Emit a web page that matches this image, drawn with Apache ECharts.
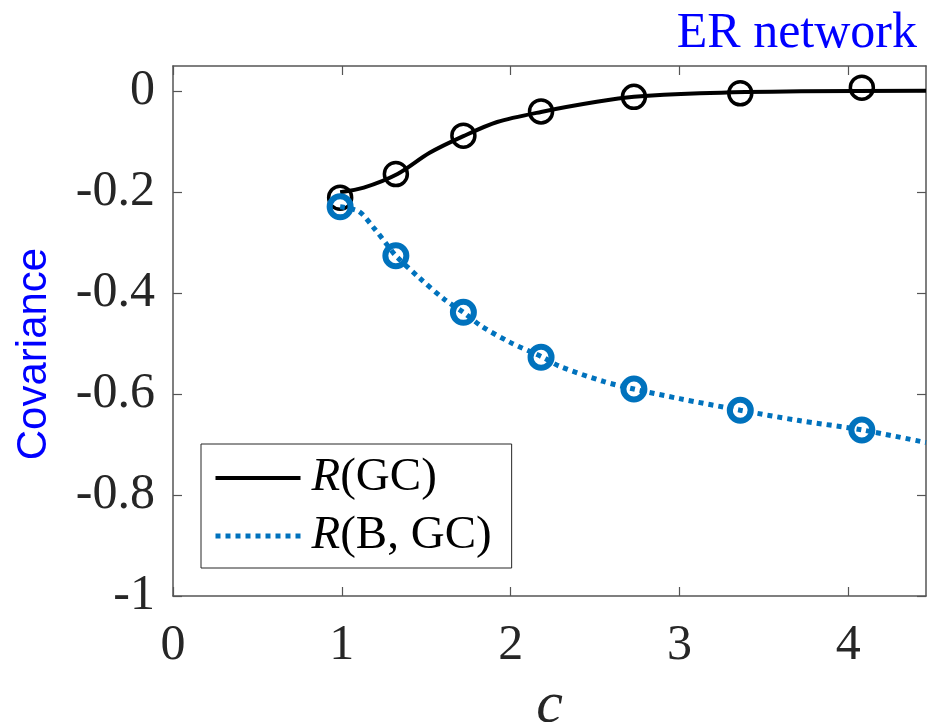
<!DOCTYPE html>
<html>
<head>
<meta charset="utf-8">
<script src="https://cdn.jsdelivr.net/npm/echarts@6/dist/echarts.min.js"></script>
<style>
  html, body { margin: 0; padding: 0; background: #fff; }
  #chart { width: 936px; height: 722px; }
</style>
</head>
<body>
<div id="chart"></div>
<script>
// Mean degree c of the ER network
const xTickValues = [0, 1, 2, 3, 4];
const yTickValues = [-1, -0.8, -0.6, -0.4, -0.2, 0];

// Theory curve: R(GC)
const gcCurveC = [0.99, 1.13, 1.33, 1.52, 1.72, 1.92, 2.18, 2.51, 2.73, 3.12, 3.72, 4.46];
const gcCurveR = [-0.2, -0.191, -0.164, -0.122, -0.089, -0.061, -0.041, -0.021, -0.011, -0.004, 0.0, 0.001];

// Theory curve: R(B, GC)
const bgcCurveC = [0.99, 1.1, 1.19, 1.27, 1.32, 1.46, 1.61, 1.72, 1.83, 2.0, 2.19, 2.29, 2.55, 2.73, 3.0, 3.36, 3.7, 4.08, 4.46];
const bgcCurveR = [-0.229, -0.238, -0.271, -0.305, -0.326, -0.37, -0.413, -0.438, -0.466, -0.498, -0.527, -0.545, -0.575, -0.59, -0.609, -0.632, -0.652, -0.671, -0.696];

// Simulation points
const markerC = [0.99, 1.32, 1.72, 2.18, 2.73, 3.36, 4.08];
const gcMarkerR = [-0.211, -0.164, -0.088, -0.04, -0.011, -0.004, 0.007];
const bgcMarkerR = [-0.229, -0.326, -0.438, -0.527, -0.59, -0.632, -0.671];

const zip = (xs, ys) => xs.map((x, i) => [x, ys[i]]);

const BLUE = '#0072BD';
const AXIS = '#555555';
const TEXT = '#262626';
const SERIF = '"Liberation Serif", "DejaVu Serif", serif';

const chart = echarts.init(document.getElementById('chart'), null, { renderer: 'canvas' });

const boxAxisLine = { show: true, onZero: false, lineStyle: { color: AXIS, width: 1.5 } };
const boxTick = { show: true, inside: true, length: 9, lineStyle: { color: AXIS, width: 1.2 } };

chart.setOption({
  animation: false,
  backgroundColor: '#fff',
  title: {
    text: 'ER network',
    right: 14,
    top: 4,
    textStyle: { color: '#0000FF', fontFamily: SERIF, fontSize: 50, fontWeight: 'normal' }
  },
  grid: { left: 173, right: 10, top: 66, bottom: 126, containLabel: false, outerBoundsMode: 'none' },
  legend: {
    orient: 'vertical',
    left: 201,
    top: 444,
    data: [
      { name: 'R(GC)', itemStyle: { opacity: 0 }, lineStyle: { width: 4, color: '#000' } },
      { name: 'R(B, GC)', itemStyle: { opacity: 0 }, lineStyle: { width: 5, color: BLUE, type: [5, 5] } }
    ],
    backgroundColor: '#fff',
    borderColor: TEXT,
    borderWidth: 1,
    padding: [8, 20, 6, 12],
    itemWidth: 85,
    itemHeight: 14,
    itemGap: 6,
    formatter: name => name === 'R(GC)' ? '{i|R}(GC)' : '{i|R}(B, GC)',
    textStyle: {
      fontFamily: SERIF, fontSize: 47, color: '#000', padding: [0, 0, 0, 6], lineHeight: 52,
      rich: {
        i: { fontFamily: SERIF, fontSize: 47, fontStyle: 'italic', color: '#000', lineHeight: 52 }
      }
    }
  },
  xAxis: [{
    type: 'value',
    min: 0,
    max: 4.46,
    position: 'bottom',
    name: 'c',
    nameLocation: 'middle',
    nameGap: 80,
    nameTextStyle: { fontFamily: SERIF, fontSize: 60, fontStyle: 'italic', color: TEXT },
    axisLine: boxAxisLine,
    axisTick: Object.assign({}, boxTick, { customValues: xTickValues }),
    axisLabel: { customValues: xTickValues, margin: 25, fontFamily: SERIF, fontSize: 50, color: TEXT },
    splitLine: { show: false }
  }, {
    type: 'value',
    min: 0,
    max: 4.46,
    position: 'top',
    axisLine: boxAxisLine,
    axisTick: Object.assign({}, boxTick, { customValues: xTickValues }),
    axisLabel: { show: false },
    splitLine: { show: false }
  }],
  yAxis: [{
    type: 'value',
    min: -1,
    max: 0.05,
    position: 'left',
    name: 'Covariance',
    nameLocation: 'middle',
    nameGap: 118,
    nameTextStyle: {
      fontFamily: '"Liberation Sans", Arial, sans-serif', fontSize: 42, color: '#0000FF',
      padding: [0, 46, 0, 0]
    },
    axisLine: boxAxisLine,
    axisTick: Object.assign({}, boxTick, { customValues: yTickValues }),
    axisLabel: { customValues: yTickValues, margin: 18, fontFamily: SERIF, fontSize: 50, color: TEXT },
    splitLine: { show: false }
  }, {
    type: 'value',
    min: -1,
    max: 0.05,
    position: 'right',
    axisLine: boxAxisLine,
    axisTick: Object.assign({}, boxTick, { customValues: yTickValues }),
    axisLabel: { show: false },
    splitLine: { show: false }
  }],
  series: [{
    name: 'R(GC)',
    type: 'line',
    data: zip(gcCurveC, gcCurveR),
    smooth: 0.3,
    symbol: 'none',
    lineStyle: { color: '#000', width: 4 },
    itemStyle: { color: '#000' },
    z: 2
  }, {
    name: 'R(GC) sim',
    type: 'scatter',
    data: zip(markerC, gcMarkerR),
    symbol: 'circle',
    symbolSize: 23,
    itemStyle: { color: 'rgba(0,0,0,0)', borderColor: '#000', borderWidth: 3.5, opacity: 1 },
    z: 3
  }, {
    name: 'R(B, GC)',
    type: 'line',
    data: zip(bgcCurveC, bgcCurveR),
    smooth: 0.3,
    symbol: 'none',
    lineStyle: { color: BLUE, width: 5, type: [5, 5], cap: 'butt' },
    itemStyle: { color: BLUE },
    z: 4
  }, {
    name: 'R(B, GC) sim',
    type: 'scatter',
    data: zip(markerC, bgcMarkerR),
    symbol: 'circle',
    symbolSize: 21,
    itemStyle: { color: 'rgba(0,0,0,0)', borderColor: BLUE, borderWidth: 6, opacity: 1 },
    z: 5
  }]
});
</script>
</body>
</html>
